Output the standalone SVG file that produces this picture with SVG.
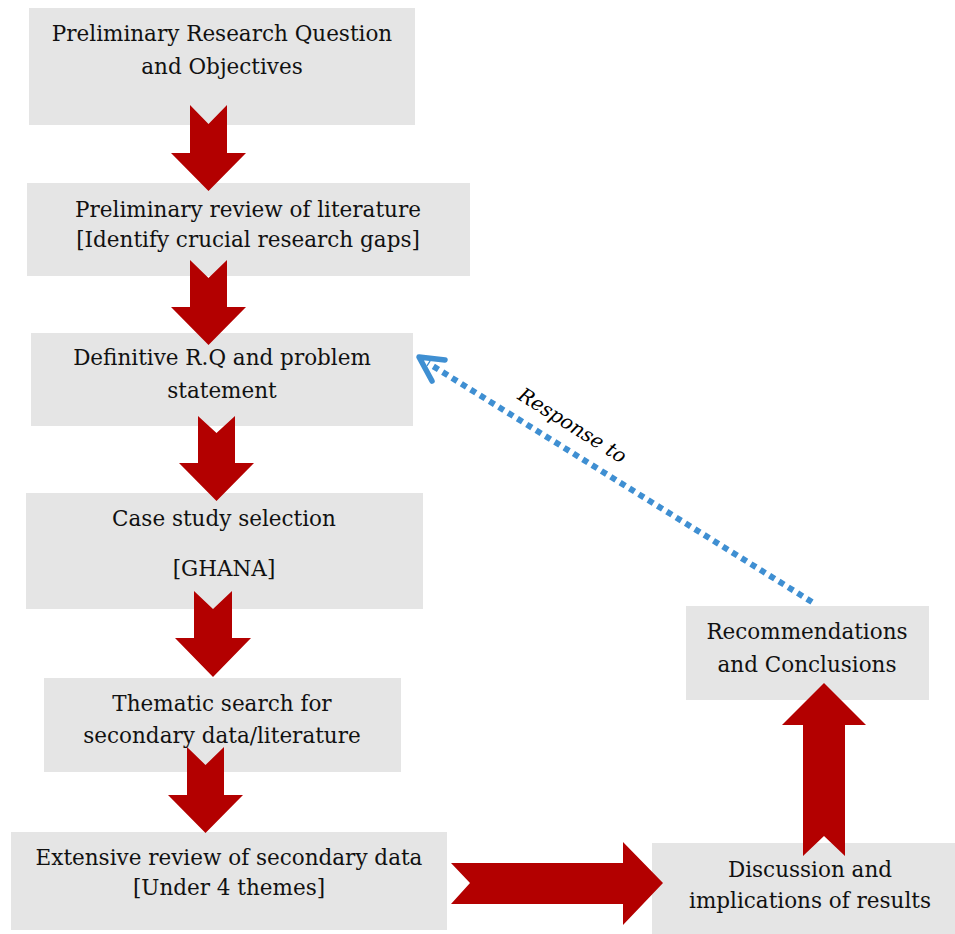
<svg xmlns="http://www.w3.org/2000/svg" width="955" height="934" viewBox="0 0 955 934">
<style>
.box{fill:#e5e5e5}
.t{font-family:"DejaVu Serif","Liberation Serif",serif;font-size:21.5px;fill:#111;text-anchor:middle}
.arr{fill:#b30000}
.dot{fill:none;stroke:#3f8fd2;stroke-width:6;stroke-dasharray:6 5}
.head{fill:none;stroke:#3f8fd2;stroke-width:5.5;stroke-linecap:round;stroke-linejoin:round}
.lbl{font-family:"DejaVu Serif","Liberation Serif",serif;font-style:italic;font-size:20px;fill:#000;text-anchor:middle}
</style>
<rect width="955" height="934" fill="#fff"/>
<g id="n1"><rect class="box" x="29" y="8" width="386" height="117"/>
<text class="t" x="222" y="41">Preliminary Research Question</text>
<text class="t" x="222" y="74">and Objectives</text></g>
<g id="n2"><rect class="box" x="27" y="183" width="443" height="93"/>
<text class="t" x="248" y="217">Preliminary review of literature</text>
<text class="t" x="248" y="247">[Identify crucial research gaps]</text></g>
<g id="n3"><rect class="box" x="31" y="333" width="382" height="93"/>
<text class="t" x="222" y="365">Definitive R.Q and problem</text>
<text class="t" x="222" y="398">statement</text></g>
<g id="n4"><rect class="box" x="26" y="493" width="397" height="116"/>
<text class="t" x="224" y="526">Case study selection</text>
<text class="t" x="224" y="576">[GHANA]</text></g>
<g id="n5"><rect class="box" x="44" y="678" width="357" height="94"/>
<text class="t" x="222" y="711">Thematic search for</text>
<text class="t" x="222" y="743">secondary data/literature</text></g>
<g id="n6"><rect class="box" x="11" y="832" width="436" height="98"/>
<text class="t" x="229" y="865">Extensive review of secondary data</text>
<text class="t" x="229" y="895">[Under 4 themes]</text></g>
<g id="n7"><rect class="box" x="652" y="843" width="303" height="91"/>
<text class="t" x="810" y="877">Discussion and</text>
<text class="t" x="810" y="908">implications of results</text></g>
<g id="n8"><rect class="box" x="686" y="606" width="243" height="94"/>
<text class="t" x="807" y="639">Recommendations</text>
<text class="t" x="807" y="672">and Conclusions</text></g>
<g id="connectors">
<polygon class="arr" points="190,105 208.5,124 227,105 227,153 246,153 208.5,191 171,153 190,153"/>
<polygon class="arr" points="190,260 208.5,278 227,260 227,307 246,307 208.5,345 171,307 190,307"/>
<polygon class="arr" points="198,416 216.5,433 235,416 235,463 254,463 216.5,501 179,463 198,463"/>
<polygon class="arr" points="194,591 213,609 232,591 232,638 251,638 213,677 175,638 194,638"/>
<polygon class="arr" points="187,747 205.5,765 224,747 224,795 243,795 205.5,833 168,795 187,795"/>
<polygon class="arr" points="451,863 623,863 623,842 663,883 623,925 623,904 451,904 470,883"/>
<polygon class="arr" points="803,856 803,725 782,725 824,683 866,725 845,725 845,856 824,836"/>
<line class="dot" x1="812" y1="602" x2="428" y2="363"/>
<polyline class="head" points="445,360 419,357 432,381"/>
<text class="lbl" transform="translate(572,426) rotate(32)" x="0" y="6">Response to</text>
</g>
</svg>
